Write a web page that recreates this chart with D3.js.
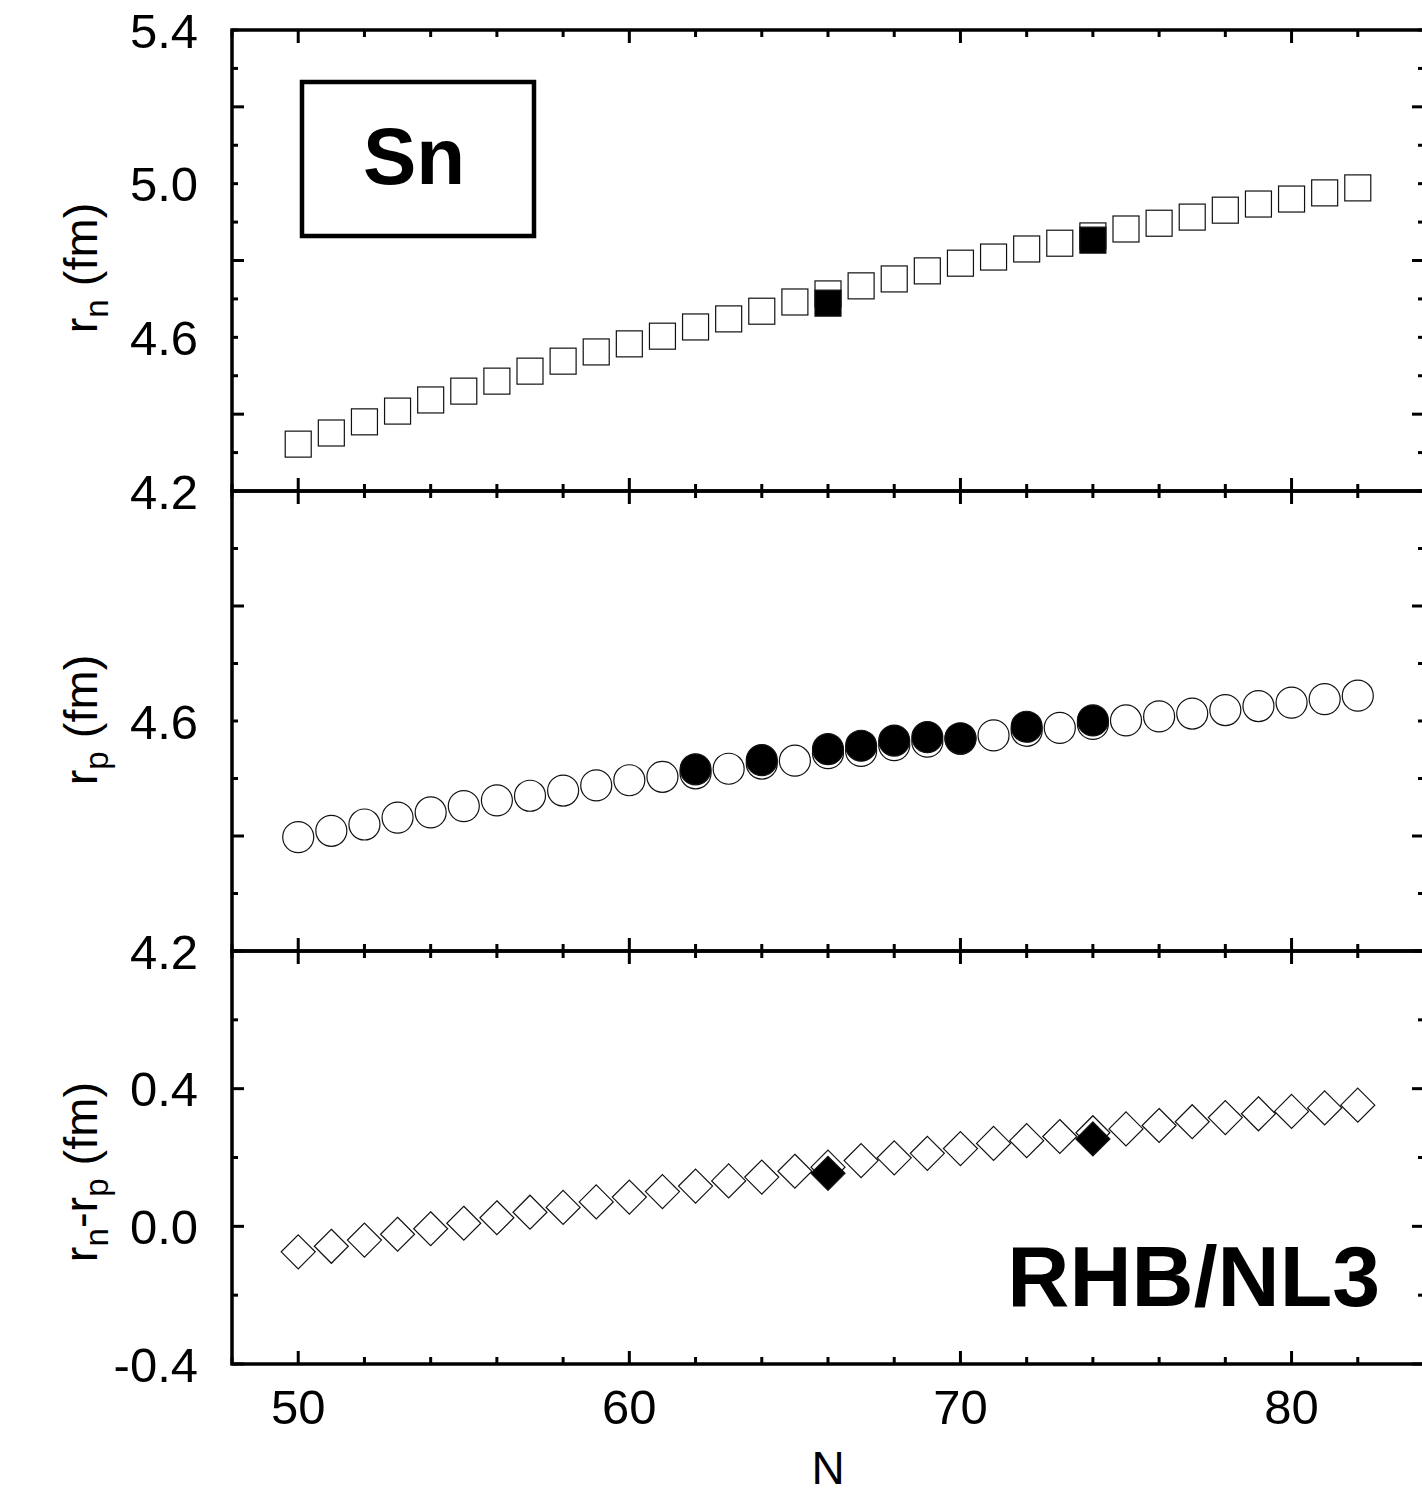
<!DOCTYPE html>
<html>
<head>
<meta charset="utf-8">
<script src="https://cdnjs.cloudflare.com/ajax/libs/d3/7.8.5/d3.min.js"></script>
<style>
  body { margin: 0; background: #fff; }
  svg { display: block; font-family: "Liberation Sans", Arial, sans-serif; }
</style>
</head>
<body>
<script>
// neutron number
var N = [50, 51, 52, 53, 54, 55, 56, 57, 58, 59, 60, 61, 62, 63, 64, 65, 66,
         67, 68, 69, 70, 71, 72, 73, 74, 75, 76, 77, 78, 79, 80, 81, 82];

// r_n (fm), RHB/NL3 and data
var rnCalc = [4.322, 4.351, 4.380, 4.408, 4.437, 4.460, 4.486, 4.512, 4.538, 4.562, 4.583,
              4.603, 4.627, 4.648, 4.668, 4.692, 4.713, 4.734, 4.752, 4.773, 4.793, 4.809,
              4.830, 4.845, 4.864, 4.882, 4.897, 4.913, 4.931, 4.947, 4.960, 4.976, 4.989];
var rnExpN = [66, 74];
var rnExp = [4.689, 4.853];

// r_p (fm)
var rpCalc = [4.398, 4.409, 4.420, 4.432, 4.441, 4.452, 4.462, 4.470, 4.479, 4.488, 4.497,
              4.503, 4.509, 4.517, 4.526, 4.531, 4.544, 4.548, 4.558, 4.564, 4.569, 4.575,
              4.583, 4.588, 4.595, 4.601, 4.608, 4.613, 4.619, 4.626, 4.632, 4.638, 4.644];
var rpExpN = [62, 64, 66, 67, 68, 69, 70, 72, 74];
var rpExp = [4.516, 4.532, 4.551, 4.557, 4.566, 4.572, 4.570, 4.590, 4.601];

// r_n - r_p (fm)
var diffCalc = [-0.074, -0.058, -0.040, -0.023, -0.007, 0.009, 0.025, 0.041, 0.055, 0.071, 0.085,
                0.101, 0.117, 0.132, 0.143, 0.160, 0.172, 0.191, 0.199, 0.212, 0.226, 0.241,
                0.249, 0.261, 0.272, 0.283, 0.293, 0.304, 0.316, 0.327, 0.334, 0.344, 0.352];
var diffExpN = [66, 74];
var diffExp = [0.154, 0.254];

var xTicks = [50, 60, 70, 80];

var width = 1422, height = 1496;
var left = 232, right = 1424;

var svg = d3.select("body").append("svg")
    .attr("width", width)
    .attr("height", height);

var x = d3.scaleLinear().domain([48, 84]).range([left, right]);

var panels = [
  { top: 30, bottom: 491, domain: [4.2, 5.4], step: 0.1, major: 0.4, labels: [5.4, 5.0, 4.6, 4.2],
    calc: rnCalc, expN: rnExpN, exp: rnExp, shape: "square" },
  { top: 491, bottom: 951, domain: [4.2, 5.0], step: 0.1, major: 0.4, labels: [4.6, 4.2],
    calc: rpCalc, expN: rpExpN, exp: rpExp, shape: "circle" },
  { top: 951, bottom: 1364, domain: [-0.4, 0.8], step: 0.2, major: 0.4, labels: [0.4, 0.0, -0.4],
    calc: diffCalc, expN: diffExpN, exp: diffExp, shape: "diamond" }
];

function isMajor(v, major) {
  var r = Math.abs(v / major - Math.round(v / major));
  return r < 1e-6;
}

panels.forEach(function(p) {
  var y = d3.scaleLinear().domain(p.domain).range([p.bottom, p.top]);
  var g = svg.append("g");

  // y ticks, inward on both sides
  var n = Math.round((p.domain[1] - p.domain[0]) / p.step);
  var yt = d3.range(n + 1).map(function(k) { return +(p.domain[0] + k * p.step).toFixed(3); });
  yt.forEach(function(v) {
    var len = isMajor(v, p.major) ? 12 : 6;
    g.append("line").attr("x1", left).attr("x2", left + len)
      .attr("y1", y(v)).attr("y2", y(v)).attr("stroke", "#000").attr("stroke-width", 3);
    g.append("line").attr("x1", right).attr("x2", right - len)
      .attr("y1", y(v)).attr("y2", y(v)).attr("stroke", "#000").attr("stroke-width", 3);
  });

  // x ticks, inward top and bottom
  d3.range(48, 85, 2).forEach(function(v) {
    var len = v % 10 === 0 ? 13 : 7;
    g.append("line").attr("x1", x(v)).attr("x2", x(v))
      .attr("y1", p.bottom).attr("y2", p.bottom - len).attr("stroke", "#000").attr("stroke-width", 3);
    g.append("line").attr("x1", x(v)).attr("x2", x(v))
      .attr("y1", p.top).attr("y2", p.top + len).attr("stroke", "#000").attr("stroke-width", 3);
  });

  g.append("rect").attr("x", left).attr("y", p.top)
    .attr("width", right - left).attr("height", p.bottom - p.top)
    .attr("fill", "none").attr("stroke", "#000").attr("stroke-width", 3.5);

  // tick labels
  p.labels.forEach(function(v) {
    g.append("text").attr("x", 198).attr("y", y(v)).attr("dy", "0.36em")
      .attr("text-anchor", "end").attr("font-size", 49)
      .text(d3.format(".1f")(v).replace("−", "-"));
  });

  // open = calculation, filled = data on top
  var pts = N.map(function(n, k) { return { n: n, v: p.calc[k] }; });
  var ex = p.expN.map(function(n, k) { return { n: n, v: p.exp[k] }; });
  drawMarks(g, pts, p.shape, x, y, "#fff");
  drawMarks(g, ex, p.shape, x, y, "#000");
});

function drawMarks(g, data, shape, x, y, fill) {
  var sel = g.append("g").selectAll("path").data(data).enter();
  if (shape === "circle") {
    sel.append("circle")
      .attr("cx", function(d) { return x(d.n); })
      .attr("cy", function(d) { return y(d.v); })
      .attr("r", 15.5)
      .attr("fill", fill).attr("stroke", "#111").attr("stroke-width", 1.2);
  } else if (shape === "square") {
    var s = 26;
    sel.append("rect")
      .attr("x", function(d) { return x(d.n) - s / 2; })
      .attr("y", function(d) { return y(d.v) - s / 2; })
      .attr("width", s).attr("height", s)
      .attr("fill", fill).attr("stroke", "#111").attr("stroke-width", 1.2);
  } else {
    var h = 17;
    sel.append("path")
      .attr("d", function(d) {
        var cx = x(d.n), cy = y(d.v);
        return "M" + cx + "," + (cy - h) + "L" + (cx + h) + "," + cy +
               "L" + cx + "," + (cy + h) + "L" + (cx - h) + "," + cy + "Z";
      })
      .attr("fill", fill).attr("stroke", "#111").attr("stroke-width", 1.2);
  }
}

// x tick labels
xTicks.forEach(function(v) {
  svg.append("text").attr("x", x(v)).attr("y", 1424)
    .attr("text-anchor", "middle").attr("font-size", 49).text(v);
});
svg.append("text").attr("x", x(66)).attr("y", 1484)
  .attr("text-anchor", "middle").attr("font-size", 46).text("N");

// y titles
function yTitle(cy, parts) {
  var t = svg.append("text").attr("transform", "translate(97," + cy + ") rotate(-90)")
    .attr("text-anchor", "middle").attr("font-size", 47);
  parts.forEach(function(p) {
    var s = t.append("tspan").text(p.t);
    if (p.sub) s.attr("baseline-shift", "-32%").attr("font-size", 33);
  });
}
yTitle(268, [{ t: "r" }, { t: "n", sub: true }, { t: " (fm)" }]);
yTitle(720, [{ t: "r" }, { t: "p", sub: true }, { t: " (fm)" }]);
yTitle(1172, [{ t: "r" }, { t: "n", sub: true }, { t: "-r" }, { t: "p", sub: true }, { t: " (fm)" }]);

// Sn box
svg.append("rect").attr("x", 302).attr("y", 82).attr("width", 232).attr("height", 154)
  .attr("fill", "none").attr("stroke", "#000").attr("stroke-width", 4.5);
svg.append("text").attr("x", 414).attr("y", 184).attr("text-anchor", "middle")
  .attr("font-size", 80).attr("font-weight", "bold").text("Sn");

svg.append("text").attr("x", 1380).attr("y", 1306).attr("text-anchor", "end")
  .attr("font-size", 86).attr("font-weight", "bold").text("RHB/NL3");
</script>
</body>
</html>
